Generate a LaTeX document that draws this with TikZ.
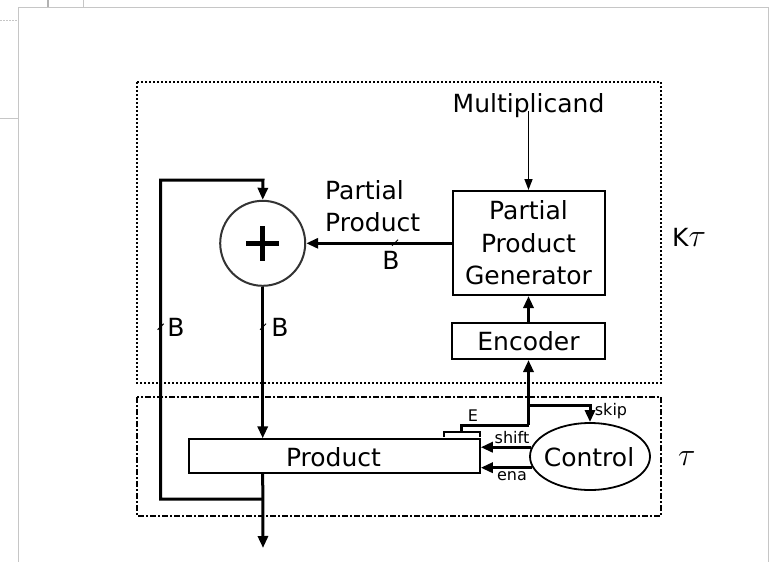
\documentclass[tikz,border=0pt]{standalone}
\usepackage{fontspec}
\setmainfont{DejaVu Sans}
\usetikzlibrary{arrows.meta,shapes.geometric}
\newcommand{\bigtau}{\scalebox{1.3}{$\tau$}}
\begin{document}
\begin{tikzpicture}[x=1pt,y=-1pt,
  big/.style={font=\fontsize{25}{32.5}\selectfont, inner sep=0pt},
  small/.style={font=\fontsize{16}{18}\selectfont, inner sep=0pt},
  blk/.style={draw, line width=2pt, inner sep=0pt, font=\fontsize{25}{32.5}\selectfont, align=center},
  bus/.style={line width=3pt, -{Triangle[length=12pt,width=10pt]}},
  busline/.style={line width=3pt},
  thinarrow/.style={line width=1.5pt, -{Triangle[length=11pt,width=8pt]}},
  tick/.style={line width=1pt},
  artifact/.style={gray!45, line width=0.8pt}
]
\useasboundingbox (0,0) rectangle (771,562);
% faint screenshot frame
\draw[artifact] (18,562) -- (18,7) -- (768,7) -- (768,562);
\draw[artifact] (0,118) -- (18,118);
\draw[artifact] (83,0) -- (83,7);
\fill[gray!60] (47,0) rectangle (49,7);
\draw[artifact, dash pattern=on 2pt off 1pt] (0,20) -- (18,20);

% region boxes
\draw[line width=1.5pt, dash pattern=on 2pt off 2pt] (137,82) rectangle (661,383);
\draw[line width=1.5pt, dash pattern=on 6pt off 2pt on 2pt off 2pt] (137,397) rectangle (661,516);
\node[big, anchor=base west] (kt) at (672,246) {K\bigtau};
\node[big, anchor=base west] (tau) at (678,465) {\bigtau};

% blocks
\node[big, anchor=base] (mult) at (528.5,112) {Multiplicand};
\node[blk, minimum width=152pt, minimum height=104pt] (ppg) at (528.5,243) {Partial\\Product\\Generator};
\node[blk, minimum width=153pt, minimum height=36pt] (enc) at (528.5,341) {Encoder};
\node[draw, line width=1.3pt, inner sep=0pt, minimum width=291pt, minimum height=34pt] (prod) at (334.6,456) {};
\node[big, anchor=base] (prodtxt) at (333.5,466) {Product};
\node[draw, ellipse, line width=1.8pt, inner sep=0pt, minimum width=120pt, minimum height=67pt] (ctrl) at (590,456.5) {};
\node[big, anchor=base] (ctrltxt) at (589,466) {Control};
\node[draw, circle, line width=2pt, draw=black!80, minimum size=85pt, inner sep=0pt] (adder) at (262.7,243.3) {};
\draw[line width=5pt] ([xshift=-16.5pt]adder.center) -- ([xshift=16.5pt]adder.center);
\draw[line width=5pt] ([yshift=-17.5pt]adder.center) -- ([yshift=17.5pt]adder.center);

% labels
\node[big, anchor=base west] (pp1) at (325,199) {Partial};
\node[big, anchor=base west] (pp2) at (325,231) {Product};
\node[big, anchor=base] (b1) at (391,269) {B};
\node[big, anchor=base] (b2) at (176,336) {B};
\node[big, anchor=base] (b3) at (280,336) {B};
\node[small, anchor=base] (skip) at (611,415) {skip};
\node[small, anchor=base] (shift) at (512,443) {shift};
\node[small, anchor=base] (ena) at (512,480) {ena};
\node[small, anchor=base] (elab) at (473,421.5) {E};

% coordinates
\coordinate (jn) at (528.5,405);
\coordinate (e1) at (528.5,425);
\coordinate (e2) at (461,425);
\coordinate (e3) at (461,432);
\coordinate (lp0) at (263,499);
\coordinate (lp1) at (160.7,499);
\coordinate (lp2) at (160.7,180);
\coordinate (lp3) at (263,180);
\coordinate (out) at (263,548);

% connectors
\draw[thinarrow] ([yshift=6pt]mult.south) -- (ppg.north);
\draw[bus] (enc.north) -- (ppg.south);
\draw[bus] (e1) -- (enc.south);
\draw[busline] (e1) -- (e2) -- (e3);
\draw[line width=2.5pt] (444,437) -- (444,432) -- (480,432) -- (480,437);
\draw[bus] (jn) -| (ctrl.north);
\draw[bus] (ctrl.171) -- (ctrl.171 -| prod.east);
\draw[bus] (ctrl.191) -- (ctrl.191 -| prod.east);
\draw[bus] (ppg.west |- adder.east) -- (adder.east);
\draw[bus] (adder.south) -- (prod.north -| adder.south);
\draw[bus] (prod.south -| adder.south) -- (out);
\draw[busline, -{Triangle[length=12pt,width=10pt]}] (lp0) -- (lp1) -- (lp2) -- (lp3) -- (adder.north);

% bus ticks
\draw[tick] (392,245.7) -- (398,239.7);
\draw[tick] (157.7,329.7) -- (163.7,323.7);
\draw[tick] (260,329.7) -- (266,323.7);
\end{tikzpicture}
\end{document}
